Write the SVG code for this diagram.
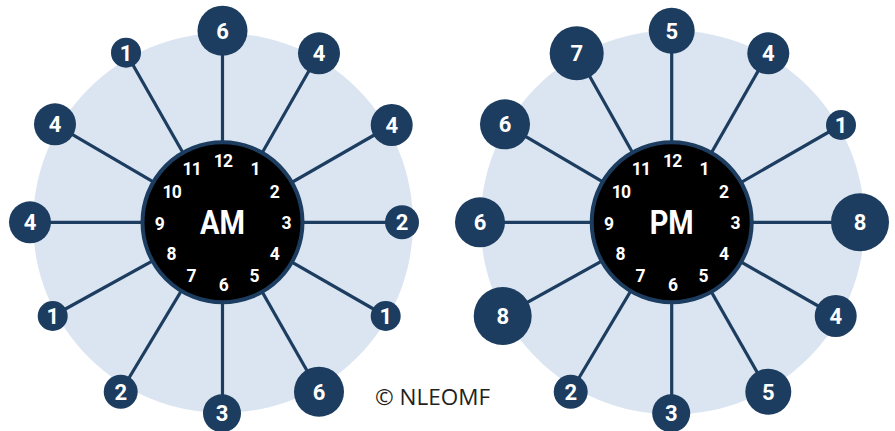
<svg xmlns="http://www.w3.org/2000/svg" width="895" height="431" viewBox="0 0 895 431">
<style>
.bg{fill:#dbe5f1}
.face{fill:#000;stroke:#1c3d60;stroke-width:4}
.con line{stroke:#1c3d60;stroke-width:3.2}
.node circle{fill:#1c3d60}
.node text{fill:#fff;font-family:Roboto,"Liberation Sans",sans-serif;font-weight:700;font-size:22px;text-anchor:middle}
.hr{fill:#fff;font-family:Roboto,"Liberation Sans",sans-serif;font-weight:700;font-size:17.5px;text-anchor:middle;letter-spacing:-0.8px}
.big{fill:#fff;font-family:Roboto,"Liberation Sans",sans-serif;font-weight:700;font-size:34px;text-anchor:middle}
.copy{fill:#231f20;font-family:"Open Sans","Liberation Sans",sans-serif;font-size:22.5px}
</style>
<circle class="bg" cx="223" cy="223" r="190"/>
<circle class="bg" cx="672.5" cy="222.5" r="192"/>
<g id="connectors" class="con">
<line x1="222.5" y1="222.3" x2="222.5" y2="30.7"/>
<line x1="222.5" y1="222.3" x2="319" y2="53.3"/>
<line x1="222.5" y1="222.3" x2="391.7" y2="125"/>
<line x1="222.5" y1="222.3" x2="402" y2="222.3"/>
<line x1="222.5" y1="222.3" x2="385.7" y2="316"/>
<line x1="222.5" y1="222.3" x2="319" y2="391.7"/>
<line x1="222.5" y1="222.3" x2="222.5" y2="413.3"/>
<line x1="222.5" y1="222.3" x2="120.7" y2="391.7"/>
<line x1="222.5" y1="222.3" x2="52.7" y2="316"/>
<line x1="222.5" y1="222.3" x2="30" y2="222.3"/>
<line x1="222.5" y1="222.3" x2="55" y2="124.3"/>
<line x1="222.5" y1="222.3" x2="126" y2="52.7"/>
<line x1="671.7" y1="222.3" x2="671.7" y2="30.7"/>
<line x1="671.7" y1="222.3" x2="768.3" y2="53.3"/>
<line x1="671.7" y1="222.3" x2="841" y2="125"/>
<line x1="671.7" y1="222.3" x2="860" y2="222.3"/>
<line x1="671.7" y1="222.3" x2="835.7" y2="316"/>
<line x1="671.7" y1="222.3" x2="768.3" y2="391.7"/>
<line x1="671.7" y1="222.3" x2="671.7" y2="413.3"/>
<line x1="671.7" y1="222.3" x2="570.7" y2="391.7"/>
<line x1="671.7" y1="222.3" x2="502.7" y2="316"/>
<line x1="671.7" y1="222.3" x2="480" y2="222.3"/>
<line x1="671.7" y1="222.3" x2="505" y2="124.3"/>
<line x1="671.7" y1="222.3" x2="576.7" y2="53.3"/>
</g>
<g id="am-clock">
<circle class="face" cx="222.5" cy="222.3" r="80"/>
<text class="hr" x="223" y="167">12</text>
<text class="hr" x="255" y="174.5">1</text>
<text class="hr" x="274.3" y="197.9">2</text>
<text class="hr" x="286" y="228.9">3</text>
<text class="hr" x="274.3" y="259.5">4</text>
<text class="hr" x="254" y="282.2">5</text>
<text class="hr" x="223.3" y="291.2">6</text>
<text class="hr" x="191" y="282.2">7</text>
<text class="hr" x="171" y="259.5">8</text>
<text class="hr" x="159.3" y="229.5">9</text>
<text class="hr" x="171.7" y="197.9">10</text>
<text class="hr" x="191.7" y="174.5">11</text>
<text class="big" x="222.5" y="234" textLength="45" lengthAdjust="spacingAndGlyphs">AM</text>
</g>
<g id="pm-clock">
<circle class="face" cx="671.7" cy="222.3" r="80"/>
<text class="hr" x="672.2" y="167">12</text>
<text class="hr" x="704.2" y="174.5">1</text>
<text class="hr" x="723.5" y="197.9">2</text>
<text class="hr" x="735.2" y="228.9">3</text>
<text class="hr" x="723.5" y="259.5">4</text>
<text class="hr" x="703.2" y="282.2">5</text>
<text class="hr" x="672.5" y="291.2">6</text>
<text class="hr" x="640.2" y="282.2">7</text>
<text class="hr" x="620.2" y="259.5">8</text>
<text class="hr" x="608.5" y="229.5">9</text>
<text class="hr" x="620.9" y="197.9">10</text>
<text class="hr" x="640.9" y="174.5">11</text>
<text class="big" x="671.7" y="233.5" textLength="44" lengthAdjust="spacingAndGlyphs">PM</text>
</g>
<g id="am-12" class="node"><circle cx="222.5" cy="30.7" r="25"/><text x="222.5" y="38.5">6</text></g>
<g id="am-1" class="node"><circle cx="319" cy="53.3" r="21"/><text x="319" y="61.1">4</text></g>
<g id="am-2" class="node"><circle cx="391.7" cy="125" r="21"/><text x="391.7" y="132.8">4</text></g>
<g id="am-3" class="node"><circle cx="402" cy="222.3" r="17"/><text x="402" y="230.1">2</text></g>
<g id="am-4" class="node"><circle cx="385.7" cy="316" r="15"/><text x="385.7" y="323.8">1</text></g>
<g id="am-5" class="node"><circle cx="319" cy="391.7" r="25"/><text x="319" y="399.5">6</text></g>
<g id="am-6" class="node"><circle cx="222" cy="413.3" r="19"/><text x="222" y="421.1">3</text></g>
<g id="am-7" class="node"><circle cx="120.7" cy="391.7" r="17"/><text x="120.7" y="399.5">2</text></g>
<g id="am-8" class="node"><circle cx="52.7" cy="316" r="15"/><text x="52.7" y="323.8">1</text></g>
<g id="am-9" class="node"><circle cx="30" cy="222.3" r="21"/><text x="30" y="230.1">4</text></g>
<g id="am-10" class="node"><circle cx="55" cy="124.3" r="21"/><text x="55" y="132.1">4</text></g>
<g id="am-11" class="node"><circle cx="126" cy="52.7" r="15"/><text x="126" y="60.5">1</text></g>
<g id="pm-12" class="node"><circle cx="671.7" cy="30.7" r="23"/><text x="671.7" y="38.5">5</text></g>
<g id="pm-1" class="node"><circle cx="768.3" cy="53.3" r="21"/><text x="768.3" y="61.1">4</text></g>
<g id="pm-2" class="node"><circle cx="841" cy="125" r="15"/><text x="841" y="132.8">1</text></g>
<g id="pm-3" class="node"><circle cx="860" cy="222.3" r="29"/><text x="860" y="230.1">8</text></g>
<g id="pm-4" class="node"><circle cx="835.7" cy="316" r="21"/><text x="835.7" y="323.8">4</text></g>
<g id="pm-5" class="node"><circle cx="768.3" cy="391.7" r="23"/><text x="768.3" y="399.5">5</text></g>
<g id="pm-6" class="node"><circle cx="671.2" cy="413.3" r="19"/><text x="671.2" y="421.1">3</text></g>
<g id="pm-7" class="node"><circle cx="570.7" cy="391.7" r="17"/><text x="570.7" y="399.5">2</text></g>
<g id="pm-8" class="node"><circle cx="502.7" cy="316" r="29"/><text x="502.7" y="323.8">8</text></g>
<g id="pm-9" class="node"><circle cx="480" cy="222.3" r="25"/><text x="480" y="230.1">6</text></g>
<g id="pm-10" class="node"><circle cx="505" cy="124.3" r="25"/><text x="505" y="132.1">6</text></g>
<g id="pm-11" class="node"><circle cx="576.7" cy="53.3" r="27"/><text x="576.7" y="61.1">7</text></g>
<text class="copy" x="375" y="405">© NLEOMF</text>
</svg>
